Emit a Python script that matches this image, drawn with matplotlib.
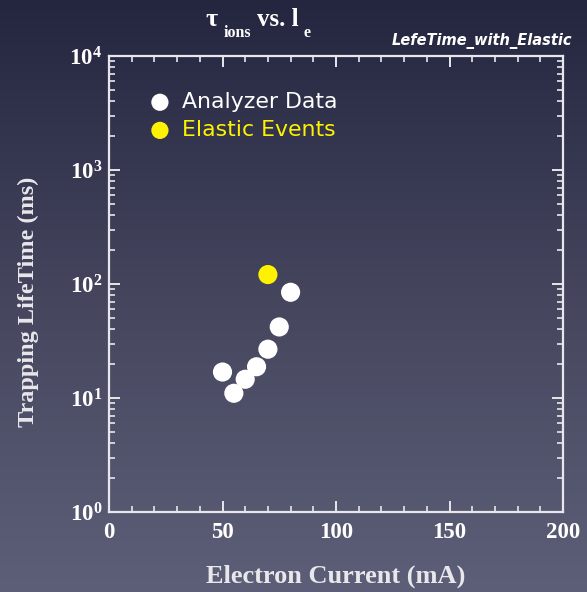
import numpy as np
import matplotlib
matplotlib.use("Agg")
import matplotlib.pyplot as plt
from matplotlib.colors import LinearSegmentedColormap
from matplotlib.ticker import LogLocator, MultipleLocator, NullFormatter

# data
analyzer_current = [50, 55, 60, 65, 70, 75, 80]
analyzer_lifetime = [16.9, 11.0, 14.6, 18.8, 26.8, 42.0, 84.6]
elastic_current = [70]
elastic_lifetime = [121]

xticks = [0, 50, 100, 150, 200]

serif = "Liberation Serif"
fg = "#e8e8ec"

fig = plt.figure(figsize=(5.87, 5.92), dpi=100)

# background gradient
bg = fig.add_axes([0, 0, 1, 1], zorder=-10)
cmap = LinearSegmentedColormap.from_list("bg", ["#24253f", "#45465e", "#5d5f78"])
bg.imshow(np.linspace(0, 1, 256).reshape(-1, 1), aspect="auto", cmap=cmap,
          extent=[0, 1, 0, 1])
bg.axis("off")

W, H = 587, 592
x0, x1, y0, y1 = 109, 563, 56, 512
ax = fig.add_axes([x0 / W, 1 - y1 / H, (x1 - x0) / W, (y1 - y0) / H])
ax.set_facecolor("none")

ax.scatter(analyzer_current, analyzer_lifetime, s=190, color="white",
           edgecolors="none", zorder=3, label="Analyzer Data")
ax.scatter(elastic_current, elastic_lifetime, s=190, color="#fff200",
           edgecolors="none", zorder=3, label="Elastic Events")

ax.set_yscale("log")
ax.set_xlim(0, 200)
ax.set_ylim(1, 1e4)
ax.set_xticks(xticks)
ax.xaxis.set_minor_locator(MultipleLocator(10))
ax.yaxis.set_major_locator(LogLocator(base=10, numticks=10))
ax.yaxis.set_minor_locator(LogLocator(base=10, subs=np.arange(2, 10), numticks=20))
ax.yaxis.set_minor_formatter(NullFormatter())

for s in ax.spines.values():
    s.set_color(fg)
    s.set_linewidth(1.6)
ax.tick_params(which="both", direction="in", top=True, right=True, colors=fg)
ax.tick_params(which="major", length=8, width=1.4)
ax.tick_params(axis="x", which="major", pad=7)
ax.tick_params(axis="y", which="major", pad=5)
ax.tick_params(which="minor", length=4, width=1.2)

for lab in ax.get_xticklabels() + ax.get_yticklabels():
    lab.set_fontfamily(serif)
    lab.set_fontweight("bold")
    lab.set_fontsize(16.5)
    lab.set_color("white")

ax.set_xlabel("Electron Current (mA)", fontfamily=serif, fontweight="bold",
              fontsize=19, color=fg, labelpad=16)
ax.set_ylabel("Trapping LifeTime (ms)", fontfamily=serif, fontweight="bold",
              fontsize=17.5, color=fg, labelpad=22)
ax.yaxis.label.set_y(0.461)

leg = ax.legend(loc="upper left", bbox_to_anchor=(0.088, 0.921), frameon=False,
                handlelength=1.0, handletextpad=0.5, labelspacing=0.37,
                markerscale=0.9, borderpad=0, borderaxespad=0,
                prop={"family": "DejaVu Sans", "size": 15.8})
leg.get_texts()[0].set_color("white")
leg.get_texts()[1].set_color("#fff200")

# title pieces
fig.text(205 / W, 1 - 26 / H, "τ", fontfamily=serif, fontweight="bold",
         fontsize=19, color="white", va="baseline")
fig.text(224 / W, 1 - 37 / H, "ions", fontfamily=serif, fontweight="bold",
         fontsize=11.5, color="white", va="baseline")
fig.text(257 / W, 1 - 26 / H, "vs. l", fontfamily=serif, fontweight="bold",
         fontsize=18, color="white", va="baseline")
fig.text(303 / W, 1 - 37 / H, "e", fontfamily=serif, fontweight="bold",
         fontsize=11.5, color="white", va="baseline")
fig.text(572 / W, 1 - 45 / H, "LefeTime_with_Elastic", fontfamily="DejaVu Sans",
         fontweight="bold", fontstyle="italic", fontsize=10.5, color="white",
         ha="right", va="baseline")

fig.savefig("out.png", dpi=100)
